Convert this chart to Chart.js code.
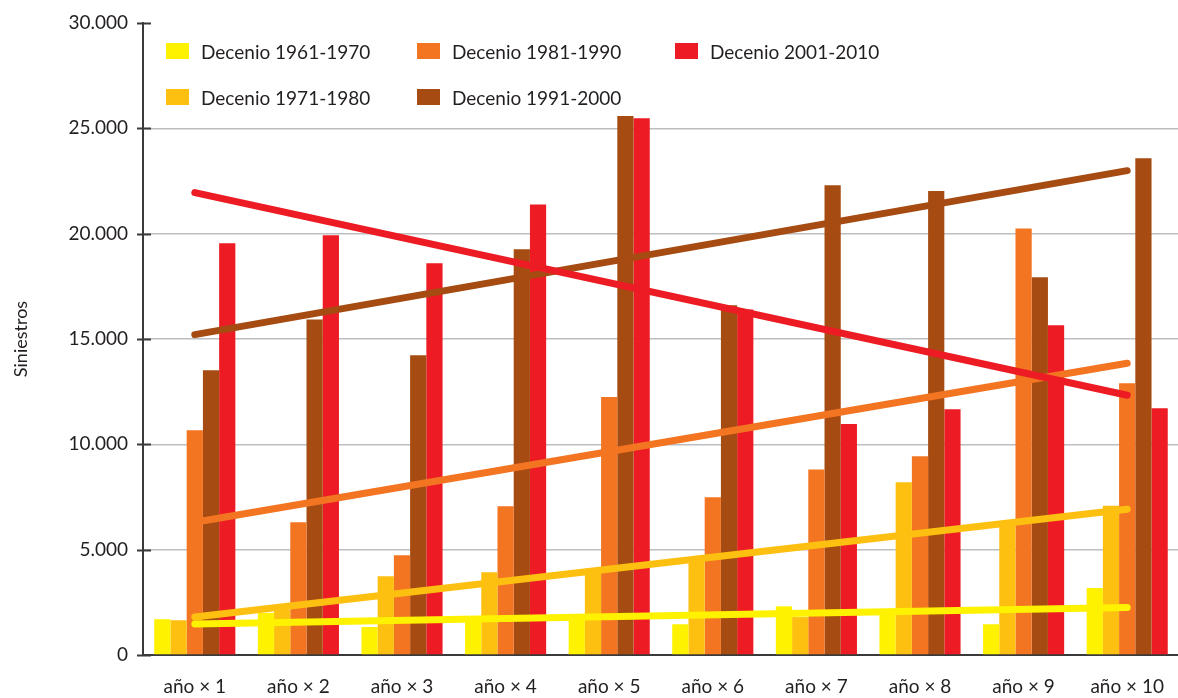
<!DOCTYPE html>
<html lang="es">
<head>
<meta charset="UTF-8">
<title>Siniestros por decenio</title>
<script src="https://cdn.jsdelivr.net/npm/chart.js"></script>
<style>
  html, body { margin: 0; padding: 0; background: #fff; overflow: hidden; }
  #wrap { position: relative; width: 1178px; height: 698px; overflow: hidden; font-family: Lato, "Open Sans", sans-serif; }
  canvas { position: absolute; left: 0; top: 0; }
  .leg { position: absolute; display: flex; align-items: center; font-size: 19px; color: #231f20; white-space: nowrap; }
  .leg span.box { display: inline-block; width: 23px; height: 16px; margin-right: 12px; }
</style>
</head>
<body>
<div id="wrap">
  <!-- el lienzo es algo mas ancho: el ultimo grupo llega al borde -->
  <canvas id="chart" width="1184" height="698"></canvas>
  <div id="legend"></div>
</div>
<script>
// categorias del eje X
const labels = ['año × 1', 'año × 2', 'año × 3', 'año × 4', 'año × 5', 'año × 6', 'año × 7', 'año × 8', 'año × 9', 'año × 10'];

// nombres y colores de cada decenio
const seriesNames = ['Decenio 1961-1970', 'Decenio 1971-1980', 'Decenio 1981-1990', 'Decenio 1991-2000', 'Decenio 2001-2010'];
const colors = ['#fff200', '#fdc010', '#f37421', '#a64b12', '#ed1c24'];

// valores
const d1961 = [1700, 2000, 1330, 1750, 1900, 1460, 2310, 2050, 1460, 3180];
const d1971 = [1650, 2150, 3740, 3930, 4100, 4450, 1800, 8200, 6250, 7080];
const d1981 = [10670, 6300, 4730, 7060, 12250, 7490, 8810, 9430, 20250, 12900];
const d1991 = [13520, 15930, 14230, 19260, 25590, 16600, 22300, 22030, 17930, 23580];
const d2001 = [19540, 19920, 18600, 21390, 25480, 16400, 10960, 11660, 15650, 11710];
const barData = [d1961, d1971, d1981, d1991, d2001];

// lineas de tendencia: valor en año 1 y en año 10
const trendStart = [1470, 1800, 6300, 15210, 21950];
const trendEnd = [2250, 6920, 13850, 22990, 12330];
const trendOrder = [4, 5, 3, 2, 1];

const yTicks = [0, 5000, 10000, 15000, 20000, 25000, 30000];

function trendSeries(i) {
    const arr = labels.map(() => null);
    arr[0] = trendStart[i];
    arr[labels.length - 1] = trendEnd[i];
    return arr;
}

const datasets = [];
seriesNames.forEach((name, i) => {
    datasets.push({
        type: 'bar', label: name, data: barData[i], backgroundColor: colors[i],
        borderWidth: 0, order: 10, categoryPercentage: 0.783, barPercentage: 1.0
    });
});
seriesNames.forEach((name, i) => {
    datasets.push({
        type: 'line', label: 'Tendencia ' + name, data: trendSeries(i), borderColor: colors[i],
        borderWidth: 7, borderCapStyle: 'round', pointRadius: 0, spanGaps: true,
        fill: false, tension: 0, order: trendOrder[i]
    });
});

// marcas del eje Y que cruzan la linea del eje
const tickMarks = {
    id: 'tickMarks',
    afterDraw(chart) {
        const ctx = chart.ctx;
        const y = chart.scales.y;
        const x0 = chart.chartArea.left;
        ctx.save();
        ctx.strokeStyle = '#3a3a3a';
        ctx.lineWidth = 2;
        yTicks.forEach(v => {
            const py = Math.round(y.getPixelForValue(v)) + 0.5;
            ctx.beginPath();
            ctx.moveTo(x0 - 6, py);
            ctx.lineTo(x0 + 8, py);
            ctx.stroke();
        });
        ctx.restore();
    }
};

Chart.defaults.font.family = 'Lato, "Open Sans", sans-serif';
Chart.defaults.color = '#231f20';

new Chart(document.getElementById('chart').getContext('2d'), {
    data: { labels: labels, datasets: datasets },
    options: {
        responsive: false,
        animation: false,
        devicePixelRatio: 1,
        layout: { padding: { left: 0, top: 23, right: 0, bottom: 0 } },
        plugins: { legend: { display: false }, tooltip: { enabled: false } },
        scales: {
            x: {
                offset: true,
                grid: { display: false, drawTicks: false },
                border: { display: true, color: '#3a3a3a', width: 2 },
                ticks: { font: { size: 19 }, color: '#231f20', padding: 20, maxRotation: 0, autoSkip: false },
                afterFit: s => { s.height = 43; }
            },
            y: {
                min: 0, max: 30000,
                afterBuildTicks: s => { s.ticks = yTicks.map(v => ({ value: v })); },
                grid: {
                    drawTicks: false, lineWidth: 1.5,
                    color: c => (c.tick && c.tick.value === 30000) ? 'rgba(0,0,0,0)' : '#bcbec0'
                },
                border: { display: true, color: '#3a3a3a', width: 2 },
                ticks: {
                    font: { size: 19 }, color: '#231f20', padding: 15,
                    callback: v => v === 0 ? '0' : v.toLocaleString('de-DE')
                },
                title: { display: true, text: 'Siniestros', font: { size: 18 }, color: '#231f20', padding: { top: 10, bottom: 0 } },
                afterFit: s => { s.width = 143; s.paddingTop = 0; s.paddingBottom = 0; }
            }
        }
    },
    plugins: [tickMarks]
});

// leyenda en columnas (como en el original)
const legPos = [[166, 43], [166, 89], [417, 43], [417, 89], [675, 43]];
const legend = document.getElementById('legend');
seriesNames.forEach((name, i) => {
    const el = document.createElement('div');
    el.className = 'leg';
    el.style.left = legPos[i][0] + 'px';
    el.style.top = (legPos[i][1] - 4) + 'px';
    el.style.height = '24px';
    const box = document.createElement('span');
    box.className = 'box';
    box.style.background = colors[i];
    el.appendChild(box);
    el.appendChild(document.createTextNode(name));
    legend.appendChild(el);
});
</script>
</body>
</html>
